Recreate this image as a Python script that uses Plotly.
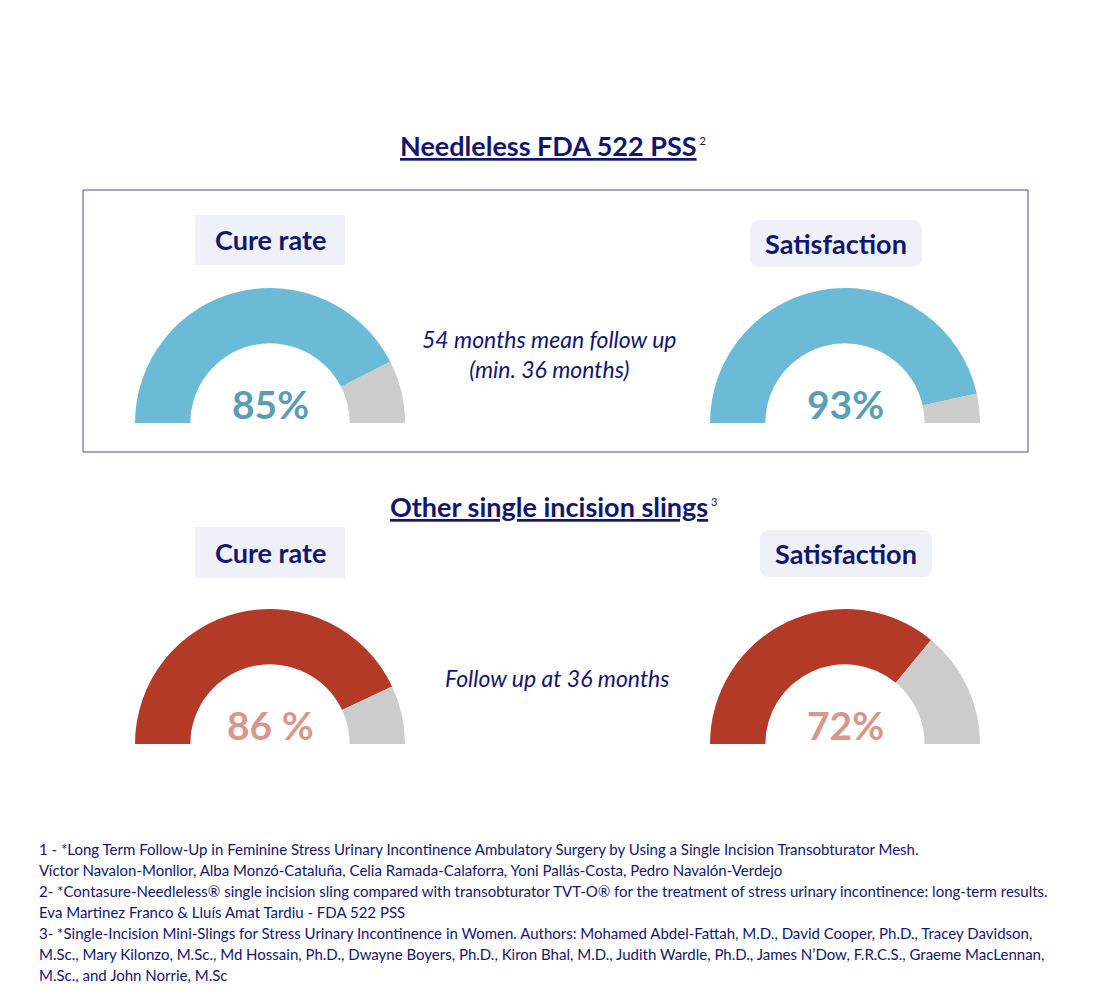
import plotly.graph_objects as go

W, H = 1100, 1000
OFF = 8  # page body margin around the figure

# gauge data
labels = ["Cure rate", "Satisfaction", "Cure rate", "Satisfaction"]
values = [85, 93, 86, 72]
value_text = ["85%", "93%", "86 %", "72%"]
groups = ["needleless", "needleless", "other", "other"]

section_titles = ["Needleless FDA 522 PSS", "Other single incision slings"]
section_refs = ["2", "3"]
follow_up = ["54 months mean follow up<br>(min. 36 months)", "Follow up at 36 months"]

footnotes = [
    "1 - *Long Term Follow-Up in Feminine Stress Urinary Incontinence Ambulatory Surgery by Using a Single Incision Transobturator Mesh.",
    "Víctor Navalon-Monllor, Alba Monzó-Cataluña, Celia Ramada-Calaforra, Yoni Pallás-Costa, Pedro Navalón-Verdejo",
    "2- *Contasure-Needleless® single incision sling compared with transobturator TVT-O® for the treatment of stress urinary incontinence: long-term results.",
    "Eva Martinez Franco & Lluís Amat Tardiu - FDA 522 PSS",
    "3- *Single-Incision Mini-Slings for Stress Urinary Incontinence in Women. Authors: Mohamed Abdel-Fattah, M.D., David Cooper, Ph.D., Tracey Davidson,",
    "M.Sc., Mary Kilonzo, M.Sc., Md Hossain, Ph.D., Dwayne Boyers, Ph.D., Kiron Bhal, M.D., Judith Wardle, Ph.D., James N’Dow, F.R.C.S., Graeme MacLennan,",
    "M.Sc., and John Norrie, M.Sc",
]

NAVY = "#12166e"
colors = {"needleless": ("#6bbad6", "#5a9db5"), "other": ("#b23a26", "#d9968a")}
GREY = "#cccccc"
BOX = "#f0f0f8"

# layout in pixels
centers = [(270, 423), (845, 423), (270, 744), (845, 744)]
R = 135
box_pos = [(195, 345, 215, 265, 0), (750, 922, 220, 267, 10),
           (195, 345, 527, 578, 0), (760, 932, 530, 577, 10)]


def px(x):
    return (x - OFF) / W


def py(y):
    return 1 - (y - OFF) / H


def text(x, y, t, size, color, xanchor="center"):
    return dict(x=px(x), y=py(y), text=t, xref="paper", yref="paper",
                xanchor=xanchor, yanchor="middle", showarrow=False,
                font=dict(size=size, color=color))


fig = go.Figure()

for (cx, cy), v, g in zip(centers, values, groups):
    main, _ = colors[g]
    fig.add_trace(go.Pie(
        values=[v, 100 - v, 100],
        marker=dict(colors=[main, GREY, "rgba(0,0,0,0)"], line=dict(width=0)),
        hole=0.59,
        sort=False,
        direction="clockwise",
        rotation=270,
        textinfo="none",
        hoverinfo="skip",
        showlegend=False,
        domain=dict(x=[px(cx - R), px(cx + R)], y=[py(cy + R), py(cy - R)]),
    ))

shapes = []
annotations = []

# frame around needleless section
shapes.append(dict(type="rect", xref="paper", yref="paper",
                   x0=px(83), x1=px(1028), y0=py(452), y1=py(190),
                   line=dict(color="#4a4f8c", width=1)))

for (x0, x1, y0, y1, rad), lab in zip(box_pos, labels):
    if rad:
        r = rad
        path = (f"M {px(x0 + r)} {py(y0)} L {px(x1 - r)} {py(y0)} "
                f"Q {px(x1)} {py(y0)} {px(x1)} {py(y0 + r)} L {px(x1)} {py(y1 - r)} "
                f"Q {px(x1)} {py(y1)} {px(x1 - r)} {py(y1)} L {px(x0 + r)} {py(y1)} "
                f"Q {px(x0)} {py(y1)} {px(x0)} {py(y1 - r)} L {px(x0)} {py(y0 + r)} "
                f"Q {px(x0)} {py(y0)} {px(x0 + r)} {py(y0)} Z")
        shapes.append(dict(type="path", xref="paper", yref="paper", path=path,
                           fillcolor=BOX, line=dict(width=0), layer="below"))
    else:
        shapes.append(dict(type="rect", xref="paper", yref="paper",
                           x0=px(x0), x1=px(x1), y0=py(y1), y1=py(y0),
                           fillcolor=BOX, line=dict(width=0), layer="below"))
    annotations.append(text((x0 + x1) / 2, (y0 + y1) / 2, f"<b>{lab}</b>", 27, NAVY))

for (cx, cy), t, g in zip(centers, value_text, groups):
    annotations.append(text(cx, cy - 19, f"<b>{t}</b>", 39, colors[g][1]))

for t, ref, y in zip(section_titles, section_refs, [145, 506]):
    annotations.append(text(553, y, f"<b><u>{t}</u></b><sup><span style='font-size:11px'> {ref}</span></sup>",
                            27, NAVY))

annotations.append(text(549, 354, f"<i>{follow_up[0]}</i>", 23, NAVY))
annotations.append(text(557, 678, f"<i>{follow_up[1]}</i>", 23, NAVY))

for i, t in enumerate(footnotes):
    annotations.append(text(37, 849 + 21 * i, t, 15, NAVY, xanchor="left"))

fig.update_layout(
    width=W, height=H,
    margin=dict(l=0, r=0, t=0, b=0),
    paper_bgcolor="white", plot_bgcolor="white",
    font=dict(family="Lato"),
    shapes=shapes,
    annotations=annotations,
)

fig.write_html("out.html")
